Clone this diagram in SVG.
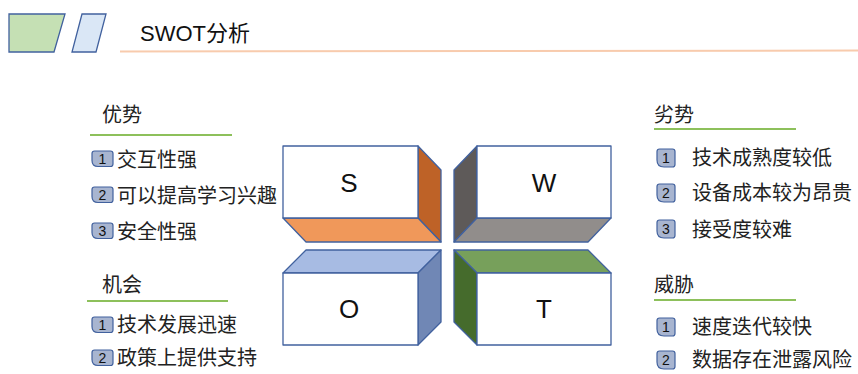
<svg xmlns="http://www.w3.org/2000/svg" width="858" height="374" viewBox="0 0 858 374">
<style>
  .t { font-family: "Noto Sans CJK SC", "Liberation Sans", sans-serif; fill: #222; }
  .hd { font-size: 20px; }
  .it { font-size: 20px; }
  .ul { stroke: #8DC05B; stroke-width: 2; }
  .bd { fill: #A8B5D0; stroke: #41619E; stroke-width: 1.2; }
  .bn { font-family: "Liberation Sans", sans-serif; font-size: 14px; fill: #111; text-anchor: middle; }
  .face { stroke: #41619E; stroke-width: 1.3; stroke-linejoin: round; }
  .lt { font-family: "Liberation Sans", sans-serif; font-size: 26px; fill: #111; text-anchor: middle; }
</style>
<defs>
  <path id="badgeL" d="M2.5 0 H18.5 Q21 0 21 2.5 V13 Q21 15.5 18.5 15.5 H6 Q0 15.5 0 9.5 V2.5 Q0 0 2.5 0 Z"/>
  <path id="badgeR" d="M2.5 0 H15.5 Q18 0 18 2.5 V15.5 Q18 18 15.5 18 H7 Q0 18 0 11 V2.5 Q0 0 2.5 0 Z"/>
</defs>
<rect width="858" height="374" fill="#fff"/>
<g id="header">
  <polygon points="9,14 65,14 54,52 9,52" fill="#C5E0B4" stroke="#41619E" stroke-width="1.3"/>
  <polygon points="82,14 106,14 96,52 72,52" fill="#DAE7F6" stroke="#41619E" stroke-width="1.3"/>
  <text x="140" y="41" font-family="'Liberation Sans','Noto Sans CJK SC',sans-serif" font-size="22" fill="#111">SWOT分析</text>
  <line x1="120" y1="51.5" x2="858" y2="50.5" stroke="#F8CBAD" stroke-width="2"/>
</g>
<g id="box-S">
  <polygon class="face" points="418,146 441,170 441,242 418,218" fill="#BE6227"/>
  <polygon class="face" points="283,218 418,218 441,242 306,242" fill="#F0985A"/>
  <rect class="face" x="283" y="146" width="135" height="72" fill="#fff"/>
  <text class="lt" x="349" y="192">S</text>
</g>
<g id="box-W">
  <polygon class="face" points="477,146 454,170 454,242 477,218" fill="#5E5A59"/>
  <polygon class="face" points="477,218 611,218 588,242 454,242" fill="#918D8B"/>
  <rect class="face" x="477" y="146" width="134" height="72" fill="#fff"/>
  <text class="lt" x="544" y="192">W</text>
</g>
<g id="box-O">
  <polygon class="face" points="306,250 441,250 418,273 283,273" fill="#A7BBE3"/>
  <polygon class="face" points="418,273 441,250 441,322 418,345" fill="#7087B5"/>
  <rect class="face" x="283" y="273" width="135" height="72" fill="#fff"/>
  <text class="lt" x="349" y="318">O</text>
</g>
<g id="box-T">
  <polygon class="face" points="454,250 588,250 611,273 477,273" fill="#77A05B"/>
  <polygon class="face" points="454,250 477,273 477,345 454,322" fill="#456B2C"/>
  <rect class="face" x="477" y="273" width="134" height="72" fill="#fff"/>
  <text class="lt" x="544" y="318">T</text>
</g>
<g id="strengths">
  <text class="t hd" x="102" y="122">优势</text>
  <line class="ul" x1="90" y1="135" x2="232" y2="135"/>
  <use href="#badgeL" class="bd" x="92" y="151"/><text class="bn" x="102.5" y="164">1</text>
  <text class="t it" x="117" y="167">交互性强</text>
  <use href="#badgeL" class="bd" x="92" y="187"/><text class="bn" x="102.5" y="200">2</text>
  <text class="t it" x="117" y="203">可以提高学习兴趣</text>
  <use href="#badgeL" class="bd" x="92" y="223"/><text class="bn" x="102.5" y="236">3</text>
  <text class="t it" x="117" y="239">安全性强</text>
</g>
<g id="opportunities">
  <text class="t hd" x="102" y="292">机会</text>
  <line class="ul" x1="87" y1="301" x2="228" y2="301"/>
  <use href="#badgeL" class="bd" x="92" y="317"/><text class="bn" x="102.5" y="330">1</text>
  <text class="t it" x="117" y="332">技术发展迅速</text>
  <use href="#badgeL" class="bd" x="92" y="350"/><text class="bn" x="102.5" y="363">2</text>
  <text class="t it" x="117" y="365">政策上提供支持</text>
</g>
<g id="weaknesses">
  <text class="t hd" x="654" y="122">劣势</text>
  <line class="ul" x1="654" y1="129" x2="796" y2="129"/>
  <use href="#badgeR" class="bd" x="657" y="149"/><text class="bn" x="666" y="163">1</text>
  <text class="t it" x="692" y="165">技术成熟度较低</text>
  <use href="#badgeR" class="bd" x="657" y="184"/><text class="bn" x="666" y="198">2</text>
  <text class="t it" x="692" y="200">设备成本较为昂贵</text>
  <use href="#badgeR" class="bd" x="657" y="220"/><text class="bn" x="666" y="234">3</text>
  <text class="t it" x="692" y="237">接受度较难</text>
</g>
<g id="threats">
  <text class="t hd" x="654" y="292">威胁</text>
  <line class="ul" x1="654" y1="300" x2="796" y2="300"/>
  <use href="#badgeR" class="bd" x="657" y="318"/><text class="bn" x="666" y="332">1</text>
  <text class="t it" x="692" y="334">速度迭代较快</text>
  <use href="#badgeR" class="bd" x="657" y="351"/><text class="bn" x="666" y="365">2</text>
  <text class="t it" x="692" y="367">数据存在泄露风险</text>
</g>
<g id="connectors"></g>
</svg>
